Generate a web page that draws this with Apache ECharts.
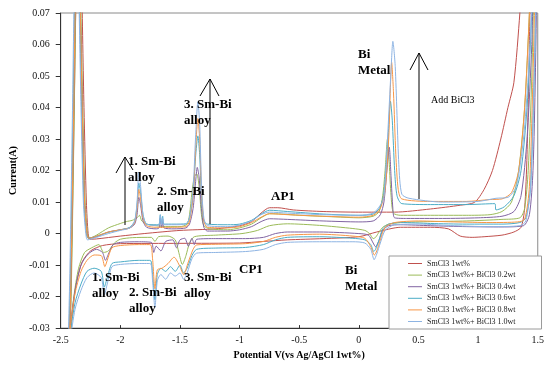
<!DOCTYPE html>
<html><head><meta charset="utf-8">
<script src="https://cdn.jsdelivr.net/npm/echarts@6/dist/echarts.min.js"></script>
<style>html,body{margin:0;padding:0;background:#fff}#c{width:547px;height:365px}</style>
</head><body><div id="c"></div>
<script>
const seriesNames = ['SmCl3 1wt%','SmCl3 1wt%+ BiCl3 0.2wt','SmCl3 1wt%+ BiCl3 0.4wt','SmCl3 1wt%+ BiCl3 0.6wt','SmCl3 1wt%+ BiCl3 0.8wt','SmCl3 1wt%+ BiCl3 1.0wt'];
const xRange = [-2.5, 1.5, 0.5];
const yRange = [-0.03, 0.07, 0.01];

const s1 = [[-2.43,-0.045],[-2.415,-0.02],[-2.40,0.01],[-2.385,0.045],[-2.37,0.08],[-2.35,0.12],[-2.325,0.08],[-2.305,0.04],[-2.285,0.01],[-2.27,0.0],[-2.255,-0.0018],[-2.2,-0.0017],[-2.0,-0.0008],[-1.8,0.0],[-1.5,0.001],[-1.2,0.0015],[-1.0,0.0025],[-0.9,0.0038],[-0.82,0.0065],[-0.75,0.0082],[-0.68,0.0082],[-0.55,0.0075],[-0.3,0.007],[0.0,0.0068],[0.3,0.0068],[0.6,0.0078],[0.85,0.009],[0.97,0.0099],[1.05,0.014],[1.12,0.02],[1.19,0.03],[1.25,0.04],[1.30,0.048],[1.35,0.07],[1.40,0.1],
[1.45,0.11],[1.43,0.06],[1.41,0.025],[1.39,0.008],[1.36,0.002],[1.3,0.0005],[1.2,-0.0005],[1.05,-0.001],[0.95,-0.0012],[0.85,-0.0008],[0.75,0.0015],[0.6,0.002],[0.35,0.002],[0.15,0.0005],[0.0,-0.001],[-0.3,-0.0016],[-0.6,-0.002],[-0.8,-0.0025],[-1.0,-0.003],[-1.5,-0.0031],[-2.0,-0.0032],[-2.15,-0.0038],[-2.25,-0.0055],[-2.32,-0.009],[-2.37,-0.016],[-2.41,-0.028],[-2.44,-0.045]];

const s2 = [[-2.43,-0.045],[-2.41,-0.015],[-2.39,0.03],[-2.375,0.07],[-2.355,0.12],[-2.335,0.08],[-2.315,0.04],[-2.295,0.01],[-2.275,0.0],[-2.26,-0.0015],[-2.2,-0.0005],[-2.1,0.0018],[-2.0,0.0032],[-1.95,0.0038],[-1.9,0.0042],[-1.86,0.005],[-1.84,0.0058],[-1.82,0.004],[-1.78,0.003],[-1.7,0.0025],[-1.6,0.0022],[-1.5,0.0022],[-1.44,0.003],[-1.42,0.006],[-1.40,0.013],[-1.38,0.018],[-1.36,0.019],[-1.34,0.015],[-1.32,0.006],[-1.30,0.0025],[-1.25,0.0015],[-1.1,0.0012],[-1.0,0.0018],[-0.9,0.003],[-0.82,0.005],[-0.75,0.0063],[-0.65,0.0062],[-0.5,0.0058],[-0.2,0.0053],[0.0,0.005],[0.12,0.0055],[0.17,0.007],[0.2,0.012],[0.22,0.02],[0.24,0.030],[0.255,0.022],[0.27,0.012],[0.29,0.0065],[0.35,0.0058],[0.6,0.0058],[0.9,0.0058],[1.1,0.006],[1.2,0.007],[1.28,0.01],[1.34,0.02],[1.39,0.04],[1.43,0.07],[1.46,0.1],
[1.48,0.1],[1.45,0.05],[1.42,0.02],[1.39,0.008],[1.35,0.005],[1.2,0.0045],[0.9,0.004],[0.6,0.0038],[0.35,0.0035],[0.25,0.003],[0.2,0.002],[0.17,0.0005],[0.14,-0.0012],[0.12,-0.0016],[0.09,0.0],[0.05,0.001],[-0.05,0.0016],[-0.33,0.0026],[-0.6,0.0031],[-0.75,0.0025],[-0.85,0.001],[-0.98,0.0],[-1.2,-0.0005],[-1.38,-0.001],[-1.42,-0.003],[-1.45,-0.007],[-1.48,-0.0098],[-1.51,-0.006],[-1.54,-0.002],[-1.6,-0.0008],[-1.68,-0.001],[-1.71,-0.0025],[-1.74,-0.0012],[-1.9,-0.0013],[-2.0,-0.0018],[-2.05,-0.003],[-2.1,-0.0055],[-2.14,-0.006],[-2.18,-0.0035],[-2.24,-0.0045],[-2.3,-0.006],[-2.35,-0.011],[-2.39,-0.02],[-2.42,-0.032],[-2.44,-0.045]];

const s3 = [[-2.435,-0.045],[-2.415,-0.015],[-2.395,0.03],[-2.38,0.07],[-2.36,0.12],[-2.34,0.08],[-2.32,0.04],[-2.30,0.01],[-2.28,0.0],[-2.265,-0.0015],[-2.2,-0.001],[-2.1,0.0005],[-2.0,0.0012],[-1.92,0.0018],[-1.88,0.003],[-1.86,0.006],[-1.845,0.0115],[-1.83,0.009],[-1.81,0.004],[-1.78,0.002],[-1.7,0.0015],[-1.675,0.0018],[-1.665,0.005],[-1.655,0.0018],[-1.645,0.0045],[-1.635,0.0018],[-1.55,0.0015],[-1.45,0.0018],[-1.42,0.003],[-1.39,0.008],[-1.37,0.016],[-1.355,0.021],[-1.34,0.018],[-1.32,0.008],[-1.30,0.002],[-1.27,0.0008],[-1.1,0.0008],[-1.0,0.0012],[-0.9,0.0022],[-0.82,0.0038],[-0.75,0.0047],[-0.6,0.0045],[-0.3,0.004],[0.0,0.0037],[0.12,0.004],[0.18,0.006],[0.21,0.01],[0.235,0.02],[0.255,0.0274],[0.27,0.018],[0.285,0.008],[0.30,0.005],[0.4,0.0048],[0.7,0.0048],[1.0,0.005],[1.2,0.0055],[1.3,0.007],[1.36,0.012],[1.41,0.03],[1.45,0.06],[1.48,0.1],
[1.5,0.1],[1.48,0.05],[1.46,0.02],[1.43,0.006],[1.38,0.0025],[1.2,0.0021],[0.9,0.0022],[0.6,0.0025],[0.35,0.0028],[0.25,0.0025],[0.2,0.001],[0.17,-0.002],[0.14,-0.0042],[0.12,-0.003],[0.08,-0.0005],[0.0,0.0],[-0.33,0.0005],[-0.6,0.0005],[-0.7,0.0],[-0.8,-0.0012],[-0.95,-0.0016],[-1.2,-0.0016],[-1.36,-0.0018],[-1.38,-0.0035],[-1.40,-0.0015],[-1.43,-0.004],[-1.46,-0.0015],[-1.50,-0.002],[-1.53,-0.0045],[-1.56,-0.002],[-1.62,-0.0025],[-1.66,-0.0055],[-1.70,-0.004],[-1.72,-0.006],[-1.74,-0.0028],[-1.85,-0.0026],[-2.0,-0.0028],[-2.06,-0.0035],[-2.1,-0.0065],[-2.125,-0.0085],[-2.15,-0.006],[-2.2,-0.005],[-2.27,-0.0065],[-2.33,-0.01],[-2.38,-0.018],[-2.42,-0.03],[-2.445,-0.045]];

const s4 = [[-2.44,-0.045],[-2.42,-0.015],[-2.40,0.03],[-2.385,0.07],[-2.365,0.12],[-2.345,0.08],[-2.325,0.04],[-2.305,0.01],[-2.285,0.0],[-2.27,-0.0015],[-2.2,-0.0008],[-2.1,0.0004],[-2.0,0.0012],[-1.92,0.002],[-1.88,0.004],[-1.86,0.009],[-1.845,0.016],[-1.83,0.013],[-1.81,0.006],[-1.78,0.003],[-1.7,0.0028],[-1.675,0.003],[-1.665,0.006],[-1.655,0.003],[-1.645,0.0055],[-1.635,0.003],[-1.55,0.003],[-1.45,0.0031],[-1.42,0.005],[-1.39,0.012],[-1.37,0.024],[-1.35,0.031],[-1.335,0.025],[-1.32,0.012],[-1.30,0.004],[-1.27,0.003],[-1.1,0.0028],[-1.0,0.003],[-0.9,0.0042],[-0.82,0.0062],[-0.75,0.0074],[-0.6,0.007],[-0.3,0.0062],[0.0,0.0058],[0.12,0.0062],[0.18,0.0085],[0.21,0.013],[0.24,0.027],[0.265,0.042],[0.28,0.036],[0.30,0.02],[0.32,0.012],[0.36,0.0095],[0.6,0.0092],[0.9,0.0092],[1.14,0.0095],[1.15,0.0075],[1.22,0.0085],[1.3,0.012],[1.36,0.02],[1.41,0.04],[1.45,0.07],[1.48,0.1],
[1.5,0.1],[1.47,0.05],[1.44,0.015],[1.40,0.005],[1.35,0.0035],[1.2,0.003],[0.9,0.003],[0.6,0.0032],[0.35,0.0035],[0.25,0.003],[0.2,0.0015],[0.17,-0.002],[0.14,-0.005],[0.125,-0.0057],[0.1,-0.0035],[0.05,-0.002],[-0.05,-0.0015],[-0.33,-0.001],[-0.6,-0.0012],[-0.7,-0.002],[-0.8,-0.0035],[-0.95,-0.0044],[-1.2,-0.0046],[-1.36,-0.005],[-1.40,-0.007],[-1.44,-0.011],[-1.47,-0.0125],[-1.5,-0.01],[-1.54,-0.012],[-1.58,-0.0105],[-1.62,-0.012],[-1.66,-0.011],[-1.69,-0.013],[-1.71,-0.021],[-1.73,-0.013],[-1.75,-0.0085],[-1.85,-0.0085],[-2.0,-0.009],[-2.07,-0.0095],[-2.11,-0.014],[-2.135,-0.017],[-2.16,-0.012],[-2.22,-0.011],[-2.28,-0.012],[-2.33,-0.016],[-2.38,-0.022],[-2.42,-0.032],[-2.445,-0.045]];

const s5 = [[-2.435,-0.045],[-2.415,-0.015],[-2.395,0.03],[-2.38,0.07],[-2.36,0.12],[-2.34,0.08],[-2.32,0.04],[-2.30,0.01],[-2.28,0.0],[-2.265,-0.0015],[-2.2,-0.0008],[-2.1,0.0005],[-2.0,0.0012],[-1.92,0.0018],[-1.88,0.0035],[-1.86,0.008],[-1.845,0.014],[-1.83,0.011],[-1.81,0.005],[-1.78,0.0025],[-1.7,0.002],[-1.6,0.002],[-1.45,0.0022],[-1.42,0.004],[-1.39,0.012],[-1.37,0.026],[-1.35,0.0365],[-1.335,0.03],[-1.32,0.014],[-1.30,0.004],[-1.27,0.002],[-1.1,0.0018],[-1.0,0.0022],[-0.9,0.0035],[-0.82,0.0052],[-0.75,0.0063],[-0.6,0.006],[-0.3,0.0055],[0.0,0.0052],[0.12,0.0058],[0.18,0.008],[0.22,0.014],[0.25,0.03],[0.275,0.0543],[0.29,0.045],[0.31,0.025],[0.33,0.014],[0.36,0.011],[0.6,0.0102],[0.9,0.0102],[1.1,0.0108],[1.2,0.011],[1.28,0.013],[1.34,0.02],[1.39,0.04],[1.43,0.07],[1.46,0.1],
[1.49,0.1],[1.46,0.05],[1.43,0.015],[1.39,0.0045],[1.33,0.0037],[1.1,0.0035],[0.8,0.0037],[0.5,0.004],[0.3,0.0035],[0.22,0.002],[0.18,-0.002],[0.15,-0.0055],[0.13,-0.0068],[0.1,-0.0042],[0.05,-0.0015],[-0.05,-0.0008],[-0.33,-0.0002],[-0.6,-0.0005],[-0.7,-0.0012],[-0.8,-0.0025],[-0.95,-0.0032],[-1.2,-0.0034],[-1.36,-0.0036],[-1.39,-0.005],[-1.43,-0.009],[-1.47,-0.013],[-1.5,-0.0105],[-1.55,-0.0075],[-1.6,-0.0095],[-1.65,-0.011],[-1.69,-0.0115],[-1.71,-0.0175],[-1.73,-0.008],[-1.75,-0.0035],[-1.85,-0.0035],[-2.0,-0.0038],[-2.07,-0.0045],[-2.11,-0.0085],[-2.13,-0.0105],[-2.16,-0.007],[-2.22,-0.0068],[-2.28,-0.0085],[-2.33,-0.012],[-2.38,-0.019],[-2.42,-0.03],[-2.445,-0.045]];

const s6 = [[-2.445,-0.045],[-2.425,-0.015],[-2.405,0.03],[-2.39,0.07],[-2.37,0.12],[-2.35,0.08],[-2.33,0.04],[-2.31,0.01],[-2.29,0.0],[-2.275,-0.002],[-2.2,-0.0012],[-2.1,0.0],[-2.0,0.001],[-1.92,0.0018],[-1.88,0.004],[-1.86,0.01],[-1.845,0.0195],[-1.83,0.015],[-1.81,0.006],[-1.78,0.003],[-1.7,0.0026],[-1.675,0.0028],[-1.665,0.0058],[-1.655,0.0028],[-1.645,0.005],[-1.635,0.0028],[-1.55,0.0028],[-1.45,0.003],[-1.42,0.005],[-1.39,0.014],[-1.37,0.03],[-1.35,0.0418],[-1.335,0.035],[-1.32,0.016],[-1.30,0.005],[-1.27,0.0025],[-1.1,0.0022],[-1.0,0.0027],[-0.9,0.004],[-0.82,0.006],[-0.75,0.0068],[-0.6,0.0065],[-0.3,0.006],[0.0,0.0058],[0.12,0.0065],[0.18,0.009],[0.21,0.0115],[0.24,0.03],[0.27,0.052],[0.285,0.061],[0.305,0.053],[0.335,0.022],[0.36,0.0125],[0.42,0.0112],[0.7,0.0100],[1.0,0.0102],[1.15,0.0112],[1.25,0.0115],[1.32,0.015],[1.38,0.03],[1.42,0.05],[1.46,0.08],[1.48,0.1],
[1.5,0.1],[1.47,0.05],[1.44,0.015],[1.40,0.004],[1.35,0.0025],[1.1,0.0022],[0.8,0.0025],[0.5,0.003],[0.3,0.0028],[0.22,0.001],[0.18,-0.003],[0.15,-0.0065],[0.128,-0.0083],[0.1,-0.005],[0.05,-0.003],[-0.05,-0.0026],[-0.33,-0.0026],[-0.6,-0.0028],[-0.7,-0.0035],[-0.8,-0.005],[-0.95,-0.0057],[-1.2,-0.006],[-1.36,-0.0062],[-1.40,-0.008],[-1.44,-0.0125],[-1.47,-0.0145],[-1.5,-0.0125],[-1.54,-0.0135],[-1.58,-0.0125],[-1.62,-0.0145],[-1.66,-0.013],[-1.69,-0.015],[-1.71,-0.0235],[-1.73,-0.015],[-1.75,-0.0095],[-1.85,-0.0095],[-2.0,-0.0098],[-2.07,-0.0105],[-2.11,-0.016],[-2.135,-0.0195],[-2.16,-0.014],[-2.22,-0.0125],[-2.28,-0.014],[-2.33,-0.018],[-2.38,-0.024],[-2.42,-0.034],[-2.45,-0.045]];

const seriesData = [s1, s2, s3, s4, s5, s6];
const colors = ['#c0504d','#9bbb59','#8064a2','#4bacc6','#f79646','#8eb4e3'];

const FONT = '"Liberation Serif","Times New Roman",serif';
const chart = echarts.init(document.getElementById('c'), null, {renderer:'canvas'});

function txt(x, y, s, size, bold){
  return {type:'text', z:100, style:{x:x, y:y, text:s, fill:'#000', font:(bold?'bold ':'')+size+'px '+FONT, lineHeight:16, verticalAlign:'top', align:'left'}};
}
function ln(pts){
  return {type:'polyline', z:100, shape:{points:pts}, style:{stroke:'#000', lineWidth:1, fill:null}};
}

chart.setOption({
  animation:false,
  backgroundColor:'#fff',
  color: colors,
  grid:{left:57, right:6, top:13, bottom:32, show:true, borderColor:'#8a8a8a', borderWidth:1, backgroundColor:'transparent'},
  xAxis:{type:'value', min:xRange[0], max:xRange[1], interval:xRange[2],
    name:'Potential V(vs Ag/AgCl 1wt%)', nameLocation:'middle', nameGap:19,
    nameTextStyle:{fontFamily:FONT, fontWeight:'bold', fontSize:10, color:'#000'},
    axisLine:{onZero:false, lineStyle:{color:'#333', width:1}},
    axisTick:{inside:true, length:3, lineStyle:{color:'#333'}},
    axisLabel:{fontFamily:FONT, fontSize:10, color:'#111', margin:7, formatter:v=>String(Math.round(v*10)/10)},
    splitLine:{show:false}},
  yAxis:{type:'value', min:yRange[0], max:yRange[1], interval:yRange[2],
    name:'Current(A)', nameLocation:'middle', nameGap:34, nameRotate:90,
    nameTextStyle:{fontFamily:FONT, fontWeight:'bold', fontSize:10, color:'#000'},
    axisLine:{show:true, onZero:false, lineStyle:{color:'#333', width:1}},
    axisTick:{show:true, inside:false, length:5, lineStyle:{color:'#333'}},
    axisLabel:{fontFamily:FONT, fontSize:10, color:'#111', margin:11, formatter:v=>String(Math.round(v*100)/100)},
    splitLine:{show:false}},
  legend:{orient:'vertical', left:389, top:256, icon:'rect', itemWidth:14, itemHeight:1, itemGap:2.6,
    padding:[3,26,3,19], backgroundColor:'#fff', borderColor:'#9a9a9a', borderWidth:1,
    textStyle:{fontFamily:FONT, fontSize:8, lineHeight:9, color:'#222'},
    data:seriesNames},
  series: seriesData.map((d,i)=>({
    name:seriesNames[i], type:'line', data:d, symbol:'none', smooth:0.25, clip:true,
    lineStyle:{width:1, color:colors[i]}, itemStyle:{color:colors[i]}, z:2+i
  })),
  graphic:[
    txt(128,154,'1. Sm-Bi\nalloy',13,true),
    txt(157,184,'2. Sm-Bi\nalloy',13,true),
    txt(184,97,'3. Sm-Bi\nalloy',13,true),
    txt(271,189,'AP1',13,true),
    txt(358,47,'Bi\nMetal',13,true),
    txt(431,92,'Add BiCl3',10,false),
    txt(92,270,'1. Sm-Bi\nalloy',13,true),
    txt(129,285,'2. Sm-Bi\nalloy',13,true),
    txt(184,270,'3. Sm-Bi\nalloy',13,true),
    txt(239,262,'CP1',13,true),
    txt(345,263,'Bi\nMetal',13,true),
    ln([[125,225],[125,157]]), ln([[116,173],[125,157],[133,170]]),
    ln([[210,224],[210,79]]), ln([[200,96],[210,79],[219,96]]),
    ln([[419,199],[419,53]]), ln([[410,70],[419,53],[428,70]])
  ]
});
</script></body></html>
